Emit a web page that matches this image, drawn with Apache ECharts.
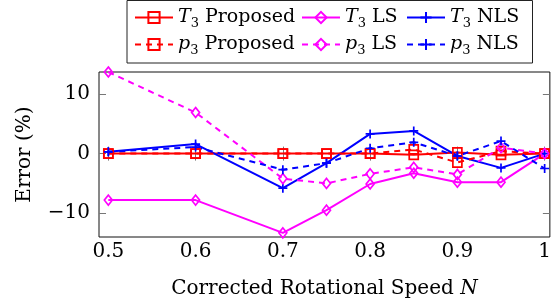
<!DOCTYPE html>
<html>
<head>
<meta charset="utf-8">
<script src="https://cdn.jsdelivr.net/npm/echarts@6/dist/echarts.min.js"></script>
<style>
  html, body { margin: 0; padding: 0; background: #fff; }
  #chart { width: 554px; height: 305px; }
</style>
</head>
<body>
<div id="chart"></div>
<script>
// corrected rotational speed N
const speeds = [0.5, 0.6, 0.7, 0.75, 0.8, 0.85, 0.9, 0.95, 1.0];

// error (%) per method
const t3Proposed = [0, 0, 0, 0, 0, -0.2, 0.2, -0.2, 0];
const t3LS = [-7.8, -7.8, -13.3, -9.5, -5.1, -3.3, -4.8, -4.8, 0];
const t3NLS = [0.3, 1.6, -5.8, -1.6, 3.3, 3.8, -0.4, -2.4, 0];
const p3Proposed = [0, 0, 0, 0, 0, 0.7, -1.5, 0.4, 0];
const p3LS = [13.7, 6.9, -4.2, -5.0, -3.4, -2.3, -3.5, 1.0, 0];
const p3NLS = [0.3, 1.1, -2.7, -1.6, 0.9, 1.9, -0.4, 2.1, -2.5];

const xTicks = [0.5, 0.6, 0.7, 0.8, 0.9, 1.0];
const yTicks = [-10, 0, 10];

const font = 'DejaVu Serif';
const fs = 20;
const plus = 'path://M0,5L10,5M5,0L5,10';

function mk(name, vals, color, symbol, dashed) {
  return {
    name: name,
    type: 'line',
    data: speeds.map((x, i) => [x, vals[i]]),
    symbol: symbol,
    symbolSize: symbol === 'diamond' ? [8, 10] : 9,
    showAllSymbol: true,
    lineStyle: { color: color, width: 2, type: dashed ? [6, 5] : 'solid' },
    itemStyle: {
      color: symbol === plus ? color : 'transparent',
      borderColor: color,
      borderWidth: 1.7
    },
    emphasis: { disabled: true },
    animation: false
  };
}

const series = [
  mk('T3 Proposed', t3Proposed, '#ff0000', 'rect', false),
  mk('T3 LS', t3LS, '#ff00ff', 'diamond', false),
  mk('T3 NLS', t3NLS, '#0000ff', plus, false),
  mk('p3 Proposed', p3Proposed, '#ff0000', 'rect', true),
  mk('p3 LS', p3LS, '#ff00ff', 'diamond', true),
  mk('p3 NLS', p3NLS, '#0000ff', plus, true)
];

// legend placement, one legend per entry (3 columns x 2 rows)
const colX = [134, 301, 406];
const rowY = [8, 35];
const legends = series.map((s, i) => ({
  data: [s.name],
  left: colX[i % 3],
  top: rowY[Math.floor(i / 3)],
  itemWidth: 38,
  itemHeight: 14,
  itemGap: 6,
  padding: 0,
  selectedMode: false,
  formatter: n => n.replace(/^(\w)3 (.*)$/, '{v|$1}{s|3}{n| $2}'),
  textStyle: {
    fontFamily: font, fontSize: 19, color: '#000',
    rich: {
      v: { fontFamily: font, fontSize: 19, fontStyle: 'italic', lineHeight: 26 },
      s: { fontFamily: font, fontSize: 13, lineHeight: 14, verticalAlign: 'bottom' },
      n: { fontFamily: font, fontSize: 19, lineHeight: 26 }
    }
  }
}));

const chart = echarts.init(document.getElementById('chart'));
chart.setOption({
  animation: false,
  backgroundColor: '#fff',
  legend: legends,
  graphic: [{
    type: 'rect',
    shape: { x: 127, y: 0.5, width: 405.5, height: 62.5 },
    style: { fill: 'none', stroke: '#222', lineWidth: 1 },
    z: 100
  }],
  grid: {
    left: 99, top: 72, bottom: 68, right: -2,
    show: true, borderColor: '#111', borderWidth: 1, backgroundColor: 'transparent'
  },
  xAxis: [{
    type: 'value', min: 0.4893, max: 1.006,
    name: '{n|Corrected Rotational Speed }{i|N}',
    nameLocation: 'middle', nameGap: 42,
    nameTextStyle: {
      rich: {
        n: { fontFamily: font, fontSize: fs, color: '#000' },
        i: { fontFamily: font, fontSize: fs, color: '#000', fontStyle: 'italic' }
      }
    },
    axisLine: { show: false },
    axisTick: { inside: true, length: 7, customValues: xTicks, lineStyle: { color: '#777', width: 1 } },
    axisLabel: {
      customValues: xTicks, margin: 5,
      fontFamily: font, fontSize: fs, color: '#000',
      formatter: v => (v === 1 ? '1' : v.toFixed(1))
    },
    splitLine: { show: false }
  }, {
    type: 'value', min: 0.4893, max: 1.006, position: 'top',
    axisLine: { show: false },
    axisTick: { inside: true, length: 7, customValues: xTicks, lineStyle: { color: '#777', width: 1 } },
    axisLabel: { show: false },
    splitLine: { show: false }
  }],
  yAxis: [{
    type: 'value', min: -14, max: 13.7,
    name: 'Error (%)', nameLocation: 'middle', nameGap: 64,
    nameTextStyle: { fontFamily: font, fontSize: fs, color: '#000' },
    axisLine: { show: false },
    axisTick: { inside: true, length: 7, customValues: yTicks, lineStyle: { color: '#777', width: 1 } },
    axisLabel: {
      customValues: yTicks, margin: 9,
      fontFamily: font, fontSize: fs, color: '#000',
      formatter: v => (v < 0 ? '\u2212' + Math.abs(v) : String(v))
    },
    splitLine: { show: false }
  }, {
    type: 'value', min: -14, max: 13.7, position: 'right',
    axisLine: { show: false },
    axisTick: { inside: true, length: 7, customValues: yTicks, lineStyle: { color: '#777', width: 1 } },
    axisLabel: { show: false },
    splitLine: { show: false }
  }],
  series: series
});
</script>
</body>
</html>
